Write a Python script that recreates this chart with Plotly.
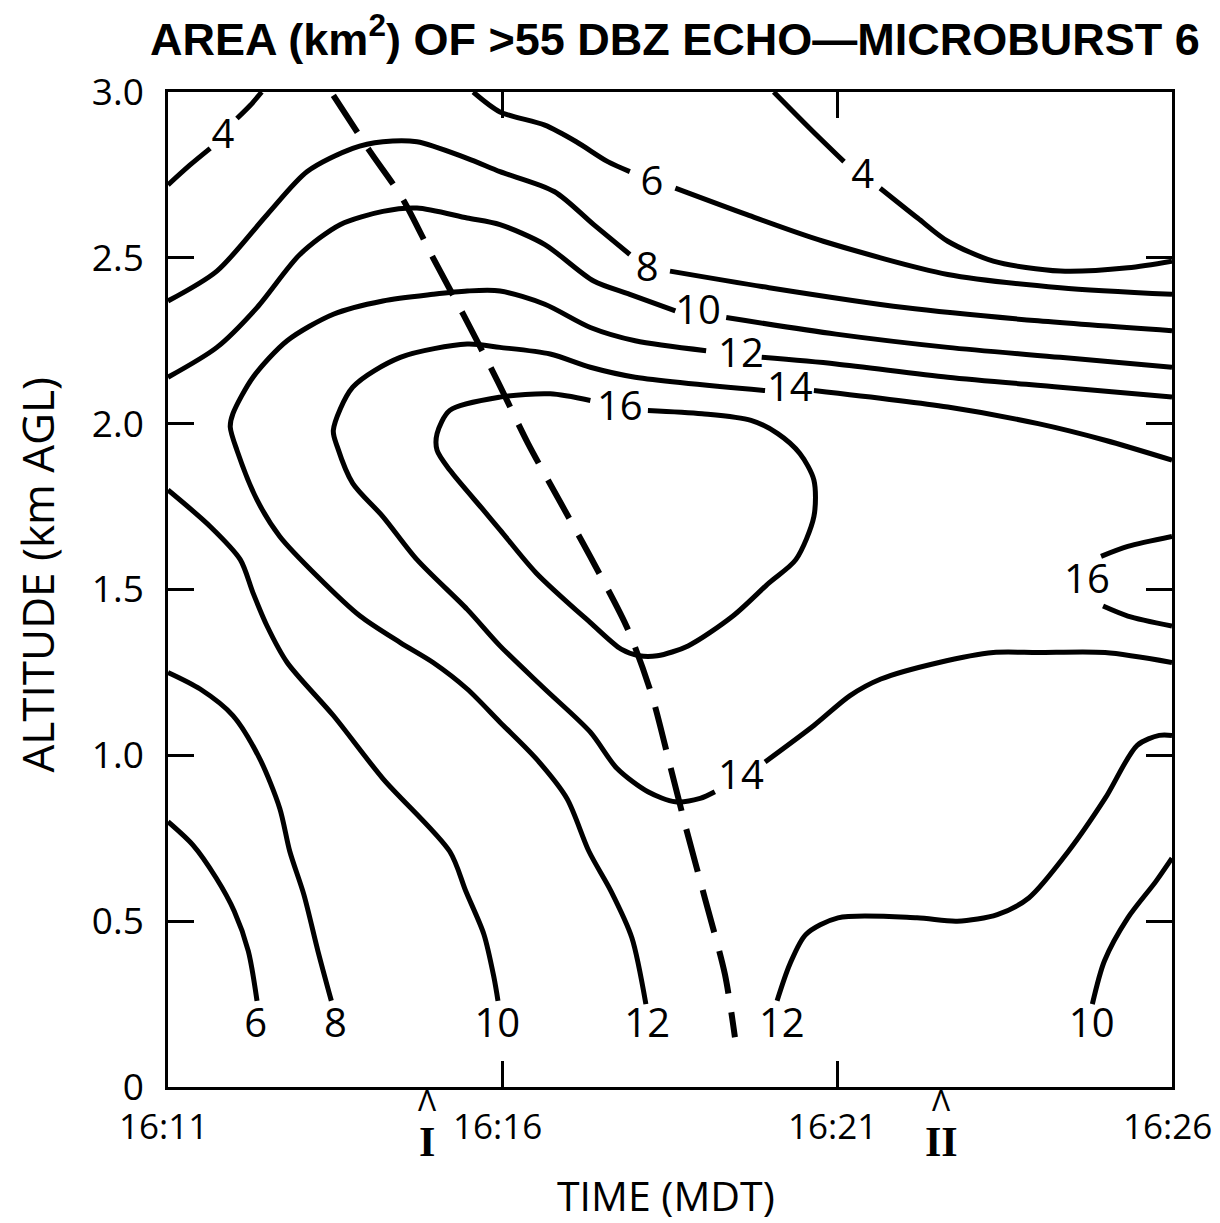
import plotly.graph_objects as go

# ---- axes (time = minutes after 16:11, altitude in km AGL) ----
x_tickvals = [0, 5, 10, 15]
x_ticktext = ["16:11", "16:16", "16:21", "16:26"]
y_tickvals = [0, 0.5, 1.0, 1.5, 2.0, 2.5, 3.0]
y_ticktext = ["0", "0.5", "1.0", "1.5", "2.0", "2.5", "3.0"]

# ---- contour segments (time_min, altitude_km), split where labels sit ----
c4_left_a = [(0.00, 2.72), (0.33, 2.78), (0.63, 2.83)]
c4_left_b = [(1.03, 2.92), (1.23, 2.96), (1.40, 3.00)]
c4_right_a = [(9.05, 3.00), (9.59, 2.89), (10.10, 2.79)]
c4_right_b = [(10.64, 2.71), (11.20, 2.62), (11.65, 2.55), (12.33, 2.49), (13.33, 2.46),
              (14.34, 2.47), (15.00, 2.49)]
c6_a = [(4.56, 3.00), (4.96, 2.94), (5.63, 2.90), (6.10, 2.85), (6.57, 2.79), (6.90, 2.76)]
c6_b = [(7.58, 2.71), (8.65, 2.63), (9.79, 2.55), (11.65, 2.45), (13.33, 2.41), (15.00, 2.39)]
c8_a = [(0.00, 2.37), (0.73, 2.46), (1.48, 2.63), (2.08, 2.76), (2.76, 2.83), (3.21, 2.85),
        (3.72, 2.85), (4.47, 2.80), (4.96, 2.76), (5.77, 2.70), (6.36, 2.60), (6.90, 2.51)]
c8_b = [(7.50, 2.46), (8.98, 2.41), (11.00, 2.35), (13.00, 2.31), (15.00, 2.28)]
c10_up_a = [(0.00, 2.14), (0.73, 2.23), (1.33, 2.35), (1.97, 2.51), (2.57, 2.60), (3.21, 2.64),
            (3.72, 2.65), (4.47, 2.62), (4.96, 2.60), (5.63, 2.54), (6.36, 2.43), (6.90, 2.39),
            (7.58, 2.34)]
c10_up_b = [(8.34, 2.32), (9.98, 2.27), (11.65, 2.23), (13.33, 2.20), (15.00, 2.17)]
c12_a = [(8.87, 2.20), (9.98, 2.18), (11.65, 2.14), (13.33, 2.11), (15.00, 2.08)]
c12_b = [(8.04, 2.22), (6.98, 2.25), (6.31, 2.29), (5.63, 2.36), (4.96, 2.40), (4.47, 2.40),
         (3.96, 2.39), (3.21, 2.37), (2.47, 2.33), (1.78, 2.25), (1.27, 2.14), (0.97, 2.03),
         (0.93, 1.99), (1.03, 1.92), (1.33, 1.77), (1.67, 1.66), (2.23, 1.54), (2.87, 1.42),
         (3.47, 1.34), (3.96, 1.28), (4.47, 1.20), (4.96, 1.10), (5.50, 0.99), (5.96, 0.87),
         (6.29, 0.71), (6.62, 0.59), (6.93, 0.45), (7.14, 0.25)]
c14_a = [(9.65, 2.10), (11.65, 2.05), (13.00, 2.00), (14.00, 1.95), (15.00, 1.89)]
c14_b = [(8.92, 2.10), (6.98, 2.14), (6.31, 2.17), (5.71, 2.21), (4.96, 2.23), (4.47, 2.24),
         (3.47, 2.20), (2.76, 2.11), (2.47, 1.98), (2.53, 1.93), (2.76, 1.82), (3.21, 1.72),
         (3.72, 1.59), (4.47, 1.44), (4.96, 1.33), (5.63, 1.20), (6.31, 1.07), (6.71, 0.96),
         (7.17, 0.89), (7.58, 0.86), (7.95, 0.87), (8.17, 0.89)]
c14_c = [(8.92, 0.98), (9.65, 1.09), (10.19, 1.18), (10.65, 1.23), (11.52, 1.28), (12.33, 1.31),
         (13.00, 1.31), (14.00, 1.31), (15.00, 1.28)]
c16_loop = [(7.17, 2.04), (7.98, 2.03), (8.71, 2.01), (9.11, 1.97), (9.44, 1.91), (9.65, 1.83),
            (9.65, 1.72), (9.38, 1.59), (8.98, 1.52), (8.44, 1.42), (7.77, 1.33), (7.31, 1.30),
            (7.04, 1.30), (6.77, 1.32), (6.31, 1.40), (5.50, 1.55), (4.96, 1.68), (4.71, 1.74),
            (4.21, 1.86), (4.02, 1.92), (4.02, 1.97), (4.21, 2.04), (4.96, 2.08), (5.71, 2.09),
            (6.31, 2.07)]
c16_right_top = [(13.94, 1.60), (14.34, 1.63), (15.00, 1.66)]
c16_right_bot = [(13.97, 1.45), (14.34, 1.42), (15.00, 1.39)]
c10_low = [(0.00, 1.80), (0.63, 1.69), (1.08, 1.59), (1.27, 1.49), (1.48, 1.39), (1.78, 1.28),
           (2.47, 1.12), (3.21, 0.93), (4.21, 0.71), (4.45, 0.59), (4.72, 0.46), (4.87, 0.33),
           (4.93, 0.26)]
c8_low = [(0.00, 1.25), (0.48, 1.20), (0.97, 1.12), (1.37, 0.99), (1.67, 0.84), (1.82, 0.71),
          (2.03, 0.58), (2.24, 0.41), (2.44, 0.26)]
c6_low = [(0.00, 0.80), (0.37, 0.73), (0.72, 0.63), (0.99, 0.53), (1.20, 0.41), (1.33, 0.26)]
c12_br = [(9.10, 0.26), (9.29, 0.37), (9.53, 0.46), (10.01, 0.51), (11.19, 0.51), (11.79, 0.50),
          (12.39, 0.52), (12.86, 0.57), (13.45, 0.71), (14.00, 0.87), (14.48, 1.03),
          (14.81, 1.06), (15.00, 1.06)]
c10_br = [(13.81, 0.25), (13.99, 0.38), (14.34, 0.51), (14.76, 0.62), (15.00, 0.69)]

# dashed track line
dash_track = [(2.47, 2.99), (3.02, 2.82), (3.50, 2.68), (3.96, 2.50), (4.41, 2.33), (4.92, 2.13),
              (5.38, 1.94), (5.87, 1.76), (6.36, 1.58), (6.87, 1.38), (7.23, 1.18), (7.50, 0.97),
              (7.74, 0.78), (8.02, 0.57), (8.32, 0.34), (8.47, 0.15)]

# contour labels
label_text = ["4", "4", "6", "8", "10", "12", "14", "16", "14", "16",
              "6", "8", "10", "12", "12", "10"]
label_t = [0.82, 10.38, 7.23, 7.16, 7.92, 8.56, 9.29, 6.75, 8.56, 13.73,
           1.31, 2.50, 4.92, 7.16, 9.17, 13.80]
label_alt = [2.86, 2.74, 2.72, 2.46, 2.33, 2.20, 2.10, 2.04, 0.93, 1.52,
             0.18, 0.18, 0.18, 0.18, 0.18, 0.18]

# event markers under the time axis
event_t = [3.87, 11.56]
event_text = ["I", "II"]

segments = [c4_left_a, c4_left_b, c4_right_a, c4_right_b, c6_a, c6_b, c8_a, c8_b,
            c10_up_a, c10_up_b, c12_a, c12_b, c14_a, c14_b, c14_c, c16_loop,
            c16_right_top, c16_right_bot, c10_low, c8_low, c6_low, c12_br, c10_br]

fig = go.Figure()
for seg in segments:
    fig.add_trace(go.Scatter(
        x=[p[0] for p in seg], y=[p[1] for p in seg], mode="lines",
        line=dict(color="black", width=5, shape="spline", smoothing=0.8),
        hoverinfo="skip", showlegend=False))

fig.add_trace(go.Scatter(
    x=[p[0] for p in dash_track], y=[p[1] for p in dash_track], mode="lines",
    line=dict(color="black", width=6, shape="spline", smoothing=0.8, dash="44px,19px"),
    hoverinfo="skip", showlegend=False))

fig.add_trace(go.Scatter(
    x=label_t, y=label_alt, mode="text", text=label_text,
    textfont=dict(family="Open Sans", size=40, color="black"),
    textposition="middle center", hoverinfo="skip", showlegend=False))

axis_common = dict(showline=True, linecolor="black", linewidth=2.5, mirror="ticks",
                   ticks="inside", ticklen=26, tickwidth=2.5, tickcolor="black",
                   showgrid=False, zeroline=False, automargin=False)

# time tick labels are drawn as annotations below (slightly left of each tick, as in the source)
fig.update_xaxes(range=[0, 15], tickvals=x_tickvals, showticklabels=False, **axis_common)
fig.update_yaxes(range=[0, 3], tickvals=y_tickvals, ticktext=y_ticktext,
                 ticklabelstandoff=14,
                 tickfont=dict(family="Open Sans", size=37, color="black"), **axis_common)

annotations = [
    dict(text="AREA (km<sup>2</sup>) OF >55 DBZ ECHO\u2014MICROBURST 6", xref="paper", yref="paper",
         x=0.505, y=1.0563, showarrow=False, xanchor="center", yanchor="middle",
         font=dict(family="Liberation Sans", size=45, color="black", weight="bold")),
    dict(text="TIME (MDT)", xref="paper", yref="paper", x=0.496, y=-0.1085,
         showarrow=False, xanchor="center", yanchor="middle",
         font=dict(family="Open Sans", size=41, color="black")),
    dict(text="ALTITUDE (km AGL)", xref="paper", yref="paper", x=-0.131, y=0.5146,
         textangle=-90, showarrow=False, xanchor="center", yanchor="middle",
         font=dict(family="Open Sans", size=44, color="black")),
]
for tv, tt in zip(x_tickvals, x_ticktext):
    annotations.append(dict(text=tt, xref="x", yref="paper", x=tv, y=-0.0382, xshift=-5,
                            showarrow=False, xanchor="center", yanchor="middle",
                            font=dict(family="Open Sans", size=35, color="black")))
for t, txt in zip(event_t, event_text):
    annotations.append(dict(text="\u039b", xref="x", yref="paper", x=t, y=-0.0125,
                            showarrow=False, xanchor="center", yanchor="middle",
                            font=dict(family="Open Sans", size=30, color="black")))
    annotations.append(dict(text=txt, xref="x", yref="paper", x=t, y=-0.0553,
                            showarrow=False, xanchor="center", yanchor="middle",
                            font=dict(family="Liberation Serif", size=42, color="black",
                                      weight="bold")))

fig.update_layout(width=1212, height=1215, margin=dict(l=160, r=48, t=84, b=136),
                  plot_bgcolor="white", paper_bgcolor="white", showlegend=False,
                  annotations=annotations)

fig.write_html("out.html")
